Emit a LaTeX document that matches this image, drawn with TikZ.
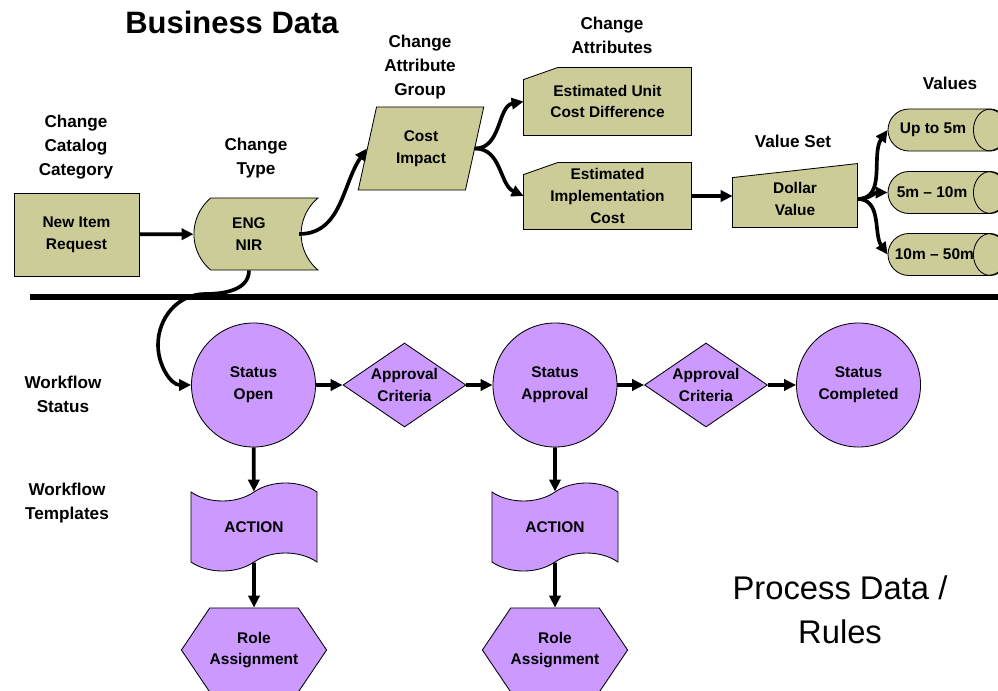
\documentclass[tikz,border=0pt]{standalone}
\usepackage{fontspec}
\setmainfont{Liberation Sans}
\usetikzlibrary{arrows.meta,shapes.geometric,shapes.misc,shapes.symbols}
\definecolor{khaki}{RGB}{204,204,153}
\definecolor{lilac}{RGB}{204,153,255}
\pgfdeclarelayer{bg}
\pgfsetlayers{bg,main}
\tikzset{
  heading/.style={font=\bfseries\fontsize{12.2}{17}\selectfont, align=center},
  dbox/.style={draw, line width=0.6pt, fill=khaki, inner sep=0pt,
    font=\bfseries\fontsize{11}{15.5}\selectfont, align=center},
  wbox/.style={dbox, fill=lilac},
  wcircle/.style={wbox, circle, minimum size=3.1cm},
  wdiamond/.style={wbox, diamond, aspect=1.46, minimum width=3.075cm, minimum height=2.1cm},
  wtape/.style={wbox, tape, tape bend height=0.45cm, minimum width=3.15cm, minimum height=2.2cm},
  whex/.style={wbox, signal, signal to=west and east, signal pointer angle=112,
    minimum width=3.6cm, minimum height=2.1cm},
  attrbox/.style={dbox, draw=none, fill=none, minimum width=4.175cm, minimum height=1.65cm},
  pill/.style={dbox, rounded rectangle, minimum width=3cm, minimum height=1.05cm},
  pilltext/.style={anchor=west, inner sep=0pt, font=\bfseries\fontsize{11}{15.5}\selectfont},
  flow/.style={line width=2.6pt, -{Triangle[length=8.5pt,width=8pt]}},
}
\begin{document}
\begin{tikzpicture}[x=0.025cm,y=0.025cm]
	\useasboundingbox (0,0) rectangle (998,-690);
	\clip (0,0) rectangle (998,-690);
	% business data
	\node[heading, font=\bfseries\fontsize{22}{26}\selectfont] (bizlbl) at (232,-22) {Business Data};
	\node[heading] (catlbl) at (76,-147) {Change\\Catalog\\Category};
	\node[heading] (typelbl) at (256,-158.5) {Change\\Type};
	\node[heading] (grouplbl) at (420,-67) {Change\\Attribute\\Group};
	\node[heading] (attrlbl) at (612,-35) {Change\\Attributes};
	\node[heading] (setlbl) at (793,-141) {Value Set};
	\node[heading] (vallbl) at (950,-83) {Values};
	\node[dbox, minimum width=3.125cm, minimum height=2.075cm] (newitem) at (76.5,-234.5) {New Item\\Request};
	\node[dbox, rounded rectangle, rounded rectangle right arc=concave, rounded rectangle arc length=100,
		minimum width=3.1cm, minimum height=1.8cm] (engnir) at (249,-234) {ENG\\NIR};
	\node[dbox, trapezium, trapezium left angle=74, trapezium right angle=106, trapezium stretches=true,
		minimum width=3.15cm, minimum height=2.075cm] (cost) at (421,-148.5) {Cost\\Impact};
	\node[attrbox, minimum height=1.675cm] (unitcost) at (607.5,-101.5) {Estimated Unit\\Cost Difference};
	\node[attrbox] (implcost) at (607.5,-196) {Estimated\\Implementation\\Cost};
	\node[dbox, draw=none, fill=none, minimum width=3.1cm, minimum height=1.4cm] (dollar) at (795,-199) {Dollar\\Value};
	\begin{pgfonlayer}{bg}
		\draw[line width=0.6pt, fill=khaki] (unitcost.south west) -- (unitcost.south east) -- (unitcost.north east)
			-- ([xshift=0.85cm]unitcost.north west) -- ([yshift=-0.3cm]unitcost.north west) -- cycle;
		\draw[line width=0.6pt, fill=khaki] (implcost.south west) -- (implcost.south east) -- (implcost.north east)
			-- ([xshift=0.85cm]implcost.north west) -- ([yshift=-0.3cm]implcost.north west) -- cycle;
		\draw[line width=0.6pt, fill=khaki] (dollar.south west) -- (dollar.south east) -- ([yshift=0.175cm]dollar.north east)
			-- ([yshift=-0.175cm]dollar.north west) -- cycle;
	\end{pgfonlayer}
	\node[pill, label={[pilltext, xshift=0.3cm]west:Up to 5m}] (val1) at (948,-130) {};
	\node[pill, label={[pilltext, xshift=0.225cm]west:5m – 10m}] (val2) at (948,-192.5) {};
	\node[pill, label={[pilltext, xshift=0.175cm]west:10m – 50m}] (val3) at (948,-254.5) {};
	\foreach \v in {val1,val2,val3}
		\draw[line width=0.6pt] ([xshift=-0.45cm]\v.east) ellipse [x radius=0.425cm, y radius=0.525cm];
	\draw[flow] (newitem) -- (engnir);
	\draw[flow] ([xshift=-0.5cm]engnir.east) to[out=0,in=235] (cost.west);
	\draw[flow] (cost.east) to[out=0,in=190] (unitcost.west);
	\draw[flow] (cost.east) to[out=0,in=155] (implcost.west);
	\draw[flow] (implcost.east) -- (implcost.east -| dollar.west);
	\draw[flow] (dollar.east) to[out=0,in=235] (val1.west);
	\draw[flow] (dollar.east) to[out=0,in=180] (val2.west);
	\draw[flow] (dollar.east) to[out=0,in=125] (val3.west);
	% divider
	\coordinate (sepL) at (30,-297);
	\coordinate (sepR) at (998,-297);
	\draw[line width=4.2pt] (sepL) -- (sepR);
	% process data
	\node[heading] (statlbl) at (63,-394.5) {Workflow\\Status};
	\node[heading] (templbl) at (67,-503.5) {Workflow\\Templates};
	\node[font=\fontsize{23.3}{31.3}\selectfont, align=center] (proclbl) at (840,-610) {Process Data /\\Rules};
	\node[wcircle] (open) at (253.5,-385) {Status\\Open};
	\node[wdiamond] (crit1) at (404.5,-385) {Approval\\Criteria};
	\node[wcircle] (approval) at (555,-385) {Status\\Approval};
	\node[wdiamond] (crit2) at (706,-385) {Approval\\Criteria};
	\node[wcircle] (completed) at (858.5,-385) {Status\\Completed};
	\node[wtape] (action1) at (254,-527) {ACTION};
	\node[wtape] (action2) at (555,-527) {ACTION};
	\node[whex] (role1) at (254,-650) {Role\\Assignment};
	\node[whex] (role2) at (555,-650) {Role\\Assignment};
	\coordinate (dip) at (205,-294);
	\coordinate (loop) at (158,-345);
	\draw[flow] (engnir.south) to[out=-90,in=0] (dip) to[out=180,in=90] (loop) to[out=-90,in=180] (open.west);
	\draw[flow] (open) -- (crit1);
	\draw[flow] (crit1) -- (approval);
	\draw[flow] (approval) -- (crit2);
	\draw[flow] (crit2) -- (completed);
	\draw[flow] (open) -- (action1);
	\draw[flow] (action1) -- (role1);
	\draw[flow] (approval) -- (action2);
	\draw[flow] (action2) -- (role2);
\end{tikzpicture}
\end{document}
